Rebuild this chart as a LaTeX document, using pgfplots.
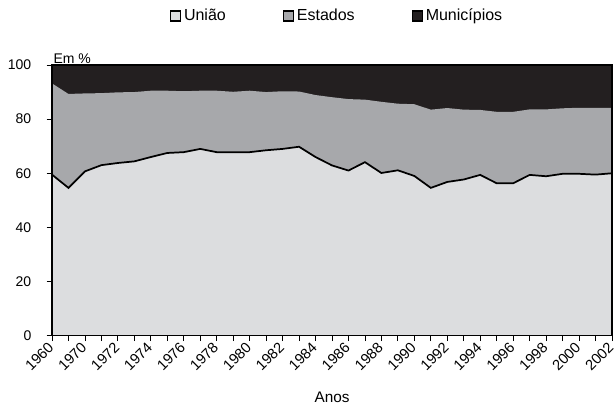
\documentclass[border=0pt]{standalone}
\usepackage{fontspec}
\setmainfont{Liberation Sans}
\usepackage{pgfplots}
\usepackage{pgfplotstable}
\pgfplotsset{compat=1.18}
\definecolor{uni}{HTML}{DCDDDF}
\definecolor{est}{HTML}{A7A8AB}
\definecolor{mun}{HTML}{231F20}
% i: position, u: União, t: União+Estados, h: total
\pgfplotstableread{
i u t h
0 59.5 93.2 100
1 54.6 89.3 100
2 60.7 89.5 100
3 63.0 89.6 100
4 63.8 89.9 100
5 64.4 90.0 100
6 66.0 90.5 100
7 67.5 90.5 100
8 67.8 90.3 100
9 69.0 90.5 100
10 67.8 90.5 100
11 67.8 90.1 100
12 67.8 90.5 100
13 68.5 90.0 100
14 69.0 90.3 100
15 69.8 90.2 100
16 66.0 88.9 100
17 62.9 88.1 100
18 61.0 87.4 100
19 64.1 87.2 100
20 60.1 86.4 100
21 61.1 85.7 100
22 59.0 85.5 100
23 54.6 83.5 100
24 56.8 84.1 100
25 57.7 83.5 100
26 59.4 83.4 100
27 56.3 82.7 100
28 56.3 82.7 100
29 59.4 83.6 100
30 58.9 83.6 100
31 59.8 84.0 100
32 59.8 84.2 100
33 59.5 84.2 100
34 60.0 84.2 100
}\data
\begin{document}
\begin{tikzpicture}
\begin{axis}[
  name=ax,
  scale only axis,
  width=420pt, height=203pt,
  xmin=0, xmax=34, ymin=0, ymax=100,
  clip=false,
  axis on top,
  axis line style={black, line width=0.8pt},
  xtick={0,...,34},
  xticklabels={1960,,1970,,1972,,1974,,1976,,1978,,1980,,1982,,1984,,1986,,1988,,1990,,1992,,1994,,1996,,1998,,2000,,2002},
  ytick={0,20,40,60,80,100},
  xtick pos=bottom, ytick pos=left,
  tick align=outside,
  major tick length=4pt,
  tick style={black, line width=0.6pt},
  tick label style={font=\fontsize{10.5}{12.5}\selectfont},
  xticklabel style={rotate=45, anchor=east, inner sep=1pt, yshift=-1.5pt, xshift=-1.5pt, font=\fontsize{11}{13}\selectfont},
  yticklabel style={xshift=-8pt},
  /pgf/number format/assume math mode=true,
  xlabel={Anos},
  xlabel style={at={(axis description cs:0.5,0)}, anchor=center, yshift=-46pt, font=\fontsize{11.5}{13.5}\selectfont},
  legend columns=3,
  legend style={draw=none, fill=none, at={(0.51,1.181)}, anchor=center,
    font=\fontsize{12}{14}\selectfont,
    /tikz/every even column/.append style={column sep=41pt},
    /tikz/every odd column/.append style={column sep=0pt}},
  legend image code/.code={\draw[#1] (0pt,-3.75pt) rectangle (7.5pt,3.75pt);},
]
\addplot[fill=mun, draw=none, forget plot] table[x=i,y=h]{\data} \closedcycle;
\addplot[fill=est, draw=none, forget plot] table[x=i,y=t]{\data} \closedcycle;
\addplot[fill=uni, draw=none, forget plot] table[x=i,y=u]{\data} \closedcycle;
\addplot[black, line width=1.3pt, forget plot] table[x=i,y=u]{\data};
\addlegendimage{fill=uni, draw=black, line width=0.8pt}
\addlegendentry{União}
\addlegendimage{fill=est, draw=black, line width=0.8pt}
\addlegendentry{Estados}
\addlegendimage{fill=mun, draw=black, line width=0.8pt}
\addlegendentry{Municípios}
\node[anchor=south west, inner sep=1pt, font=\fontsize{10.5}{12.5}\selectfont] at (rel axis cs:0,1) {Em \%};
\end{axis}
\path (ax.south west) ++(-39pt,-57pt) coordinate (bbA);
\path (ax.north east) ++(2.25pt,48.75pt) coordinate (bbB);
\pgfresetboundingbox
\path[use as bounding box] (bbA) rectangle (bbB);
\end{tikzpicture}
\end{document}
